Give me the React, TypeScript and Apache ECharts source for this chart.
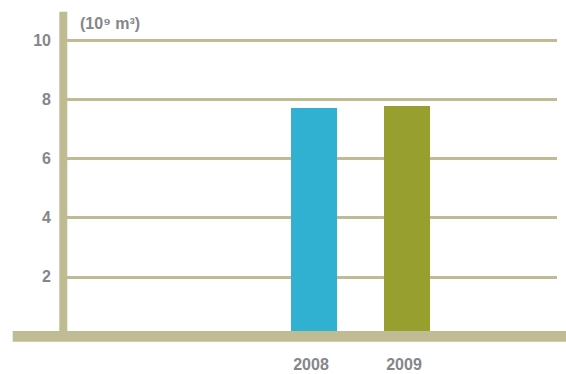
import React, { useEffect, useRef } from "react";
import * as echarts from "echarts";

// Annual volume, 10^9 m³
const years = ["2008", "2009"];
const volumes = [7.7, 7.77];
const barColors = ["#31b1d1", "#97a02e"];
const yTicks = { min: 0, max: 10, interval: 2 };
const unitLabel = "(10⁹ m³)";

const TEXT = "#85868a";
const AXIS = "#bfbb92";
const FONT = "'Liberation Sans', Arial, sans-serif";

export default function App() {
  const ref = useRef<HTMLDivElement>(null);

  useEffect(() => {
    document.body.style.margin = "0";
    const chart = echarts.init(ref.current!, null, { renderer: "svg" });
    chart.setOption({
      animation: false,
      backgroundColor: "#ffffff",
      textStyle: { fontFamily: FONT },
      grid: [
        { left: 63, right: 9, top: 40, bottom: 38 },
        { left: 267.5, width: 186, top: 40, bottom: 38 },
      ],
      xAxis: [
        { gridIndex: 0, type: "value", min: 0, max: 1, show: false },
        {
          gridIndex: 1,
          type: "category",
          data: years,
          axisLine: { show: false },
          axisTick: { show: false },
          axisLabel: {
            color: TEXT,
            fontFamily: FONT,
            fontWeight: "bold",
            fontSize: 16,
            margin: 20,
            padding: [0, 6, 0, 0],
          },
        },
      ],
      yAxis: [
        {
          gridIndex: 0,
          type: "value",
          min: yTicks.min,
          max: yTicks.max,
          interval: yTicks.interval,
          axisLine: { show: false },
          axisTick: { show: false },
          axisLabel: {
            color: TEXT,
            fontFamily: FONT,
            fontWeight: "bold",
            fontSize: 16,
            margin: 12,
            formatter: (v: number) => (v === 0 ? "" : String(v)),
          },
          splitLine: { lineStyle: { color: AXIS, width: 3 } },
        },
        {
          gridIndex: 1,
          type: "value",
          min: yTicks.min,
          max: yTicks.max,
          show: false,
        },
      ],
      series: [
        {
          type: "bar",
          xAxisIndex: 1,
          yAxisIndex: 1,
          barWidth: 46,
          data: volumes.map((v, i) => ({
            value: v,
            itemStyle: { color: barColors[i] },
          })),
        },
      ],
      graphic: [
        // vertical axis bar
        {
          type: "rect",
          z: 10,
          shape: { x: 59.3, y: 11.7, width: 8, height: 320 },
          style: { fill: AXIS },
        },
        // baseline band
        {
          type: "rect",
          z: 10,
          shape: { x: 12.7, y: 331, width: 554, height: 10.7 },
          style: { fill: AXIS },
        },
        {
          type: "text",
          z: 10,
          x: 80,
          y: 23,
          style: {
            text: unitLabel,
            fill: TEXT,
            font: `bold 16px ${FONT}`,
            verticalAlign: "middle",
          },
        },
      ],
    });
    return () => chart.dispose();
  }, []);

  return <div ref={ref} style={{ width: 566, height: 374 }} />;
}
